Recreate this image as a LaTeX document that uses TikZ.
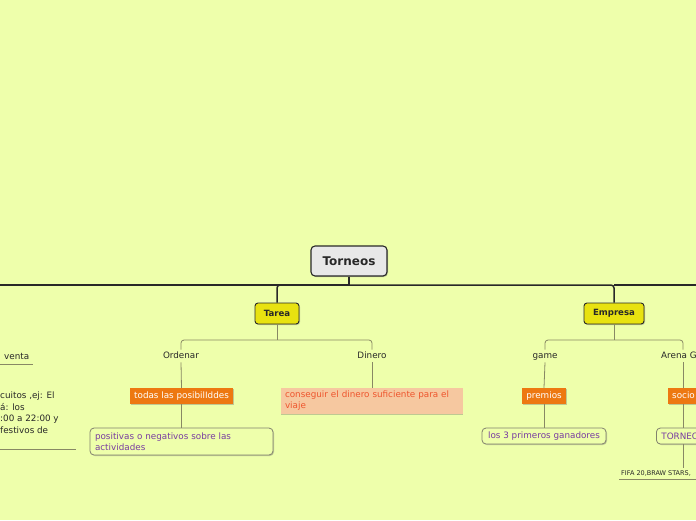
\documentclass[tikz,border=0pt]{standalone}
\usepackage{fontspec}
\setmainfont{DejaVu Sans}
\usetikzlibrary{shadows}
\definecolor{bg}{RGB}{238,255,171}
\definecolor{dark}{RGB}{40,40,40}
\definecolor{txt}{RGB}{40,40,40}
\definecolor{rootfill}{RGB}{232,232,232}
\definecolor{ylw}{RGB}{232,226,16}
\definecolor{org}{RGB}{237,120,17}
\definecolor{peach}{RGB}{246,200,160}
\definecolor{peachtxt}{RGB}{238,85,45}
\definecolor{purp}{RGB}{120,60,160}
\definecolor{subline}{RGB}{136,136,100}
\definecolor{boxline}{RGB}{130,130,110}
\tikzset{
  shad/.style={drop shadow={shadow xshift=1pt,shadow yshift=-1pt,opacity=0.35,fill=black!60}},
  rootbox/.style={draw=dark,fill=rootfill,line width=1.1pt,rounded corners=4pt,
    minimum width=76pt,minimum height=30pt,text=txt,
    font=\bfseries\fontsize{12}{14}\selectfont,shad},
  mainbox/.style={draw=dark,fill=ylw,line width=0.9pt,rounded corners=3pt,
    minimum height=21pt,text=txt,inner xsep=2pt,
    font=\bfseries\fontsize{8.6}{10}\selectfont,shad},
  lbl/.style={text=txt,inner sep=2pt,text height=6.6pt,text depth=1.8pt,font=\fontsize{8.8}{11}\selectfont},
  orgbox/.style={fill=org,text=white,minimum height=16pt,inner xsep=4pt,inner ysep=2pt,
    text height=6.6pt,text depth=1.8pt,font=\fontsize{8.8}{11}\selectfont,shad},
  purpbox/.style={draw=boxline,fill=bg,line width=0.8pt,rounded corners=4pt,text=purp,
    minimum height=16pt,inner xsep=5pt,inner ysep=2pt,font=\fontsize{8.8}{11}\selectfont,shad},
  peachbox/.style={fill=peach,text=peachtxt,inner xsep=4pt,inner ysep=2pt,
    font=\fontsize{8.8}{11}\selectfont,
    drop shadow={shadow xshift=0pt,shadow yshift=-1pt,opacity=0.35,fill=black!60}},
  mainline/.style={draw=dark,line width=1.5pt},
  subline/.style={draw=subline,line width=0.8pt},
  smalltxt/.style={text=txt,inner sep=2pt,font=\fontsize{6.5}{8}\selectfont}
}
\begin{document}
\begin{tikzpicture}[x=1pt,y=-1pt]
\useasboundingbox (0,0) rectangle (696,520);
\fill[bg] (0,0) rectangle (696,520);
\clip (0,0) rectangle (696,520);

\coordinate (jl) at (0,285);
\coordinate (jr) at (696,285);
\coordinate (bar) at (0,340);
\coordinate (colA) at (683,0);

% nodes
\node[rootbox] (T) at (349,261) {Torneos};
\node[mainbox,minimum width=44pt] (Tarea) at (277,313.5) {Tarea};
\node[mainbox,minimum width=60pt] (Empresa) at (614,313.5) {Empresa};

\node[lbl] (Ordenar) at (181,356) {Ordenar};
\node[lbl] (Dinero) at (372,356) {Dinero};
\node[lbl] (game) at (545,356) {game};
\node[lbl,anchor=west] (Arena) at (659,356) {Arena G};

\node[orgbox,minimum width=103pt] (todas) at (181.5,396) {todas las posibilIddes};
\node[orgbox,minimum width=44pt] (premios) at (544,396) {premios};
\node[orgbox,anchor=west,minimum width=50pt,text width=42pt,align=left] (socio) at (668,396) {socio};

\node[purpbox,minimum width=183pt,minimum height=27pt,text width=173pt,align=left] (pos) at (181.5,441.5) {positivas o negativos sobre las\\actividades};
\node[purpbox,minimum width=124pt] (los) at (544,436) {los 3 primeros ganadores};
\node[purpbox,anchor=west,minimum width=60pt,text width=50pt,align=left] (torneo) at (656,436) {TORNEO};

\node[peachbox,minimum width=182pt,minimum height=26pt,text width=174pt,align=left] (cons) at (372,401) {conseguir el dinero suficiente para el\\viaje};

\node[smalltxt,anchor=west] (fifa) at (619,473) {FIFA 20,BRAW STARS,};

\node[lbl,anchor=west,inner xsep=4pt] (venta) at (0,357) {venta};
\node[lbl,anchor=north west,inner xsep=0pt,align=left,text height=,text depth=,font=\fontsize{8.8}{11.4}\selectfont] (left) at (0,390) {cuitos ,ej: El\\á: los\\:00 a 22:00 y\\festivos de};

% main connectors
\draw[mainline] (T.south) -- (T.south |- jl);
\draw[mainline] (jl) -- (T.south |- jl);
\draw[mainline,rounded corners=3pt] (T.south |- jl) -| (Tarea.north);
\draw[mainline,rounded corners=3pt] (T.south |- jl) -| (Empresa.north);
\draw[mainline] (Empresa.north |- jr) -- (jr);

% Tarea branch
\draw[subline] (Tarea.south) -- (Tarea.south |- bar);
\draw[subline,rounded corners=3pt] (Ordenar.north) |- (Tarea.south |- bar) -| (Dinero.north);
\draw[subline] (Ordenar.south) -- (todas.north);
\draw[subline] (todas.south) -- (pos.north);
\draw[subline] (Dinero.south) -- (cons.north);

% Empresa branch
\draw[subline] (Empresa.south) -- (Empresa.south |- bar);
\draw[subline,rounded corners=3pt] (game.north) |- (Empresa.south |- bar) -| (Arena.north -| colA);
\draw[subline] (game.south) -- (premios.north);
\draw[subline] (premios.south) -- (los.north);
\draw[subline] (Arena.south -| colA) -- (socio.north -| colA);
\draw[subline] (socio.south -| colA) -- (torneo.north -| colA);
\draw[subline] (torneo.south -| colA) -- (fifa.north -| colA);
\draw[subline] ([yshift=-1pt]fifa.south west) -- ([yshift=-1pt,xshift=10pt]fifa.south east);

% left fragments underlines
\draw[subline] ([yshift=-1pt]venta.south west) -- ([yshift=-1pt]venta.south east);
\draw[subline] ([yshift=-14pt]left.south west) -- ++(76,0);
\end{tikzpicture}
\end{document}
